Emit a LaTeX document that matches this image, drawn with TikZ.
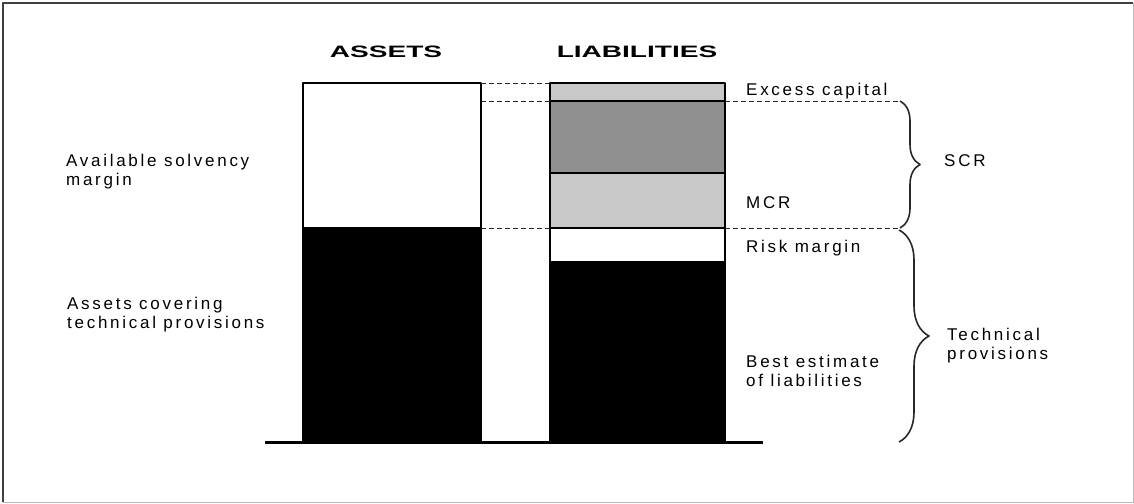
\documentclass[tikz,border=0pt]{standalone}
\usepackage{fontspec}
\setmainfont{Liberation Sans}[LetterSpace=16]
\newfontfamily\headfont{Liberation Sans}[FakeStretch=1.7]
\usetikzlibrary{calc, decorations.pathreplacing}

\definecolor{lightbar}{RGB}{200,200,200}
\definecolor{darkbar}{RGB}{144,144,144}
\definecolor{bracegray}{RGB}{40,40,40}

\tikzset{
    block/.style={draw=black, line width=1.2pt, inner sep=0pt, outer sep=0pt, anchor=north west},
    guide/.style={dash pattern=on 5pt off 3pt, line width=1pt, black!85},
    lbl/.style={inner sep=0pt, font=\fontsize{17}{19}\selectfont, align=left},
    head/.style={inner sep=0pt, font=\headfont\bfseries\fontsize{16.5}{19}\selectfont},
    curly/.style={decorate, decoration={brace, amplitude=#1}, line width=1.6pt, bracegray},
}

\begin{document}
\begin{tikzpicture}[line cap=butt, line join=round, x=1pt, y=-1pt]

    \useasboundingbox (0,0) rectangle (1134,503);

    % window frame
    \draw[line width=2pt, black!75] (3,502) -- (3,3) -- (1133,3);
    \draw[line width=1pt, gray!55] (1133,3) -- (1133,502) -- (3,502);

    % assets column
    \node[block, minimum width=178pt, minimum height=145pt] (avail) at (303,83) {};
    \node[block, fill=black, minimum width=178pt, minimum height=214pt] (cover) at (303,228) {};

    % liabilities column
    \node[block, fill=lightbar, minimum width=175pt, minimum height=18pt] (excess) at (550,83) {};
    \node[block, fill=darkbar, minimum width=175pt, minimum height=72pt] (scr) at (550,101) {};
    \node[block, fill=lightbar, minimum width=175pt, minimum height=55pt] (mcr) at (550,173) {};
    \node[block, fill=white, minimum width=175pt, minimum height=34pt] (risk) at (550,228) {};
    \node[block, fill=black, minimum width=175pt, minimum height=180pt] (best) at (550,262) {};

    \coordinate (scrtop) at (900,101);
    \coordinate (scrbot) at (900,228);
    \coordinate (techtop) at (899,230);
    \coordinate (techbot) at (899,442);
    \coordinate (groundw) at (265,442);
    \coordinate (grounde) at (763,442);

    % dashed guide lines
    \draw[guide] (avail.north east) -- (excess.north west);
    \draw[guide] (avail.east |- excess.south) -- (excess.south west);
    \draw[guide] (excess.south east) -- (scrtop);
    \draw[guide] (avail.south east) -- (risk.north west);
    \draw[guide] (risk.north east) -- (scrbot);

    \draw[line width=3pt] (groundw) -- (grounde);

    % braces
    \draw[curly=20pt] (scrtop) -- (scrbot);
    \draw[curly=30pt] (techtop) -- (techbot);

    \node[head, anchor=base] (assetshead) at (386,57) {ASSETS};
    \node[head, anchor=base] (liabhead) at (637,57) {LIABILITIES};

    \node[lbl, anchor=west] (availlbl) at (66,172) {Available solvency\\margin};
    \node[lbl, anchor=west] (coverlbl) at (67,315) {Assets covering\\technical provisions};

    \node[lbl, anchor=base west] (excesslbl) at (746,95) {Excess capital};
    \node[lbl, anchor=base west] (mcrlbl) at (746,208) {MCR};
    \node[lbl, anchor=base west] (risklbl) at (746,252) {Risk margin};
    \node[lbl, anchor=west] (bestlbl) at (746,371) {Best estimate\\of liabilities};
    \node[lbl, anchor=base west] (scrlbl) at (944,166) {SCR};
    \node[lbl, anchor=west] (techlbl) at (947,346) {Technical\\provisions};

\end{tikzpicture}
\end{document}
